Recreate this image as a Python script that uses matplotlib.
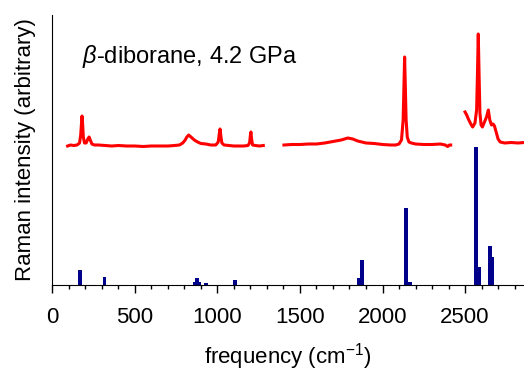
import numpy as np
import matplotlib
matplotlib.use('Agg')
import matplotlib.pyplot as plt
from matplotlib.ticker import MultipleLocator

plt.rcParams['font.family'] = ['Liberation Sans', 'DejaVu Sans']
plt.rcParams['mathtext.fontset'] = 'custom'
plt.rcParams['mathtext.rm'] = 'Liberation Sans'
plt.rcParams['mathtext.it'] = 'Liberation Sans:italic'

# measured spectrum, three windows (freq in cm-1, intensity arbitrary)
seg1_freq = [93, 110, 130, 150, 165, 172, 177, 180, 183, 188, 195, 205, 215, 223, 230,
             240, 255, 280, 320, 360, 400, 450, 500, 550, 600, 650, 700, 740, 770, 790,
             805, 815, 826, 840, 860, 880, 900, 930, 960, 990, 1005, 1012, 1016, 1020,
             1027, 1040, 1070, 1100, 1130, 1160, 1185, 1195, 1200, 1203, 1207, 1213,
             1230, 1255, 1278]
seg1_int = [139, 140, 139.5, 140, 142, 150, 162, 169, 163, 148, 142, 142, 146, 148, 145,
            141, 140, 140, 139.5, 139, 139.5, 139, 139, 138.5, 139, 139, 139, 139.5, 140, 142,
            145, 148, 150, 148, 145, 143, 141.5, 141, 140, 140, 143, 152, 156, 150,
            142, 140, 139.5, 139, 139, 139, 139.5, 142, 150, 153, 146, 140,
            139.5, 139, 139.5]

seg2_freq = [1403, 1450, 1500, 1550, 1600, 1650, 1700, 1750, 1790, 1820, 1850, 1900, 1950,
             2000, 2050, 2080, 2100, 2115, 2125, 2130, 2134, 2138, 2143, 2150, 2160, 2175,
             2200, 2250, 2300, 2350, 2380, 2395, 2405, 2413]
seg2_int = [140, 140.5, 140.5, 141, 141, 142, 143.5, 145, 147, 146, 144, 142, 141.5,
            140.5, 140, 140, 141, 145, 165, 200, 228, 200, 165, 148, 143, 142,
            141, 140.5, 140.5, 141, 140, 138.5, 140, 140]

seg3_freq = [2500, 2510, 2520, 2535, 2546, 2560, 2570, 2575, 2580, 2585, 2590, 2597, 2605,
             2615, 2630, 2641, 2650, 2660, 2670, 2678, 2690, 2700, 2713, 2740, 2780, 2820, 2860]
seg3_int = [173, 170, 166, 161, 158, 162, 175, 210, 251, 210, 172, 160, 158,
            162, 168, 175, 165, 160, 161, 159, 152, 146, 143, 142, 142.5, 142, 142.5]

# calculated modes
calc_freq = [168, 316, 864, 888, 876, 931, 1105, 1858, 1875, 2144, 2166, 2566, 2584, 2651, 2665]
calc_int = [15, 7.7, 2.7, 2.7, 6.7, 1.7, 5, 7, 25, 76.7, 3.3, 138.3, 18.3, 39.3, 28]

fig = plt.figure(figsize=(5.24, 3.75), dpi=100)
ax = fig.add_axes([52.3 / 524, 90 / 375, (524 - 52.3) / 524, 270 / 375])

red = '#ff0000'
for fr, it in [(seg1_freq, seg1_int), (seg2_freq, seg2_int), (seg3_freq, seg3_int)]:
    ax.plot(fr, it, color=red, lw=2.2)

ax.bar(calc_freq, calc_int, width=22, color='#00008b', linewidth=0)

ax.set_xlim(0, 2857)
ax.set_ylim(0, 270)
ax.spines['top'].set_visible(False)
ax.spines['right'].set_visible(False)
ax.set_yticks([])
ax.xaxis.set_major_locator(MultipleLocator(500))
ax.xaxis.set_minor_locator(MultipleLocator(100))
ax.tick_params(axis='x', which='major', length=6, width=1, labelsize=16, pad=10)
ax.tick_params(axis='x', which='minor', length=3, width=1)

ax.set_xlabel('frequency (cm$^{-1}$)', fontsize=16, labelpad=9)
ax.set_ylabel('Raman intensity (arbitrary)', fontsize=16, labelpad=12)
ax.text(180, 228, r'$\beta$-diborane, 4.2 GPa', fontsize=17, va='center', ha='left')

fig.savefig('out.png', dpi=100)
